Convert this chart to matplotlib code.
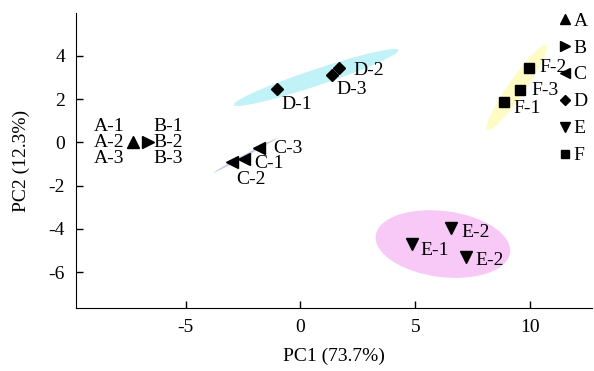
import matplotlib.pyplot as plt
import matplotlib
from matplotlib.patches import Ellipse
from matplotlib.lines import Line2D

matplotlib.rcParams['font.family'] = ['Liberation Serif', 'DejaVu Serif']
matplotlib.rcParams['axes.unicode_minus'] = False

# ── data ──
groups = ['A', 'B', 'C', 'D', 'E', 'F']
markers = ['^', '>', '<', 'D', 'v', 's']

a_x = [-7.3]
a_y = [0.0]
b_x = [-6.65]
b_y = [0.0]
c_x = [-3.0, -2.45, -1.8]
c_y = [-0.92, -0.76, -0.25]
c_names = ['C-2', 'C-1', 'C-3']
d_x = [-1.0, 1.38, 1.67]
d_y = [2.46, 3.11, 3.46]
d_names = ['D-1', 'D-3', 'D-2']
e_x = [4.87, 6.57, 7.2]
e_y = [-4.7, -3.97, -5.31]
e_names = ['E-1', 'E-2', 'E-2']
f_x = [8.84, 9.56, 9.96]
f_y = [1.85, 2.42, 3.45]
f_names = ['F-1', 'F-3', 'F-2']

# confidence ellipses: center x, center y, width, height, angle, colour
ellipses = [
    (0.68, 3.0, 7.6, 0.75, 19.5, '#c0f2f7'),
    (-2.4, -0.6, 3.2, 0.1, 30, '#c4caf0'),
    (9.41, 2.53, 4.7, 0.75, 57, '#fefbc4'),
    (6.2, -4.7, 5.9, 3.05, -8, '#f8c8f7'),
]

fig = plt.figure(figsize=(5.94, 3.71), dpi=100)
ax = fig.add_axes([0.128, 0.169, 0.869, 0.797])

for cx, cy, w, h, ang, col in ellipses:
    ax.add_patch(Ellipse((cx, cy), w, h, angle=ang, facecolor=col,
                         edgecolor='none', zorder=1))

ms = 8
ax.plot(a_x, a_y, '^', color='black', ms=ms, zorder=3)
ax.plot(b_x, b_y, '>', color='black', ms=ms, zorder=3)
ax.plot(c_x, c_y, '<', color='black', ms=ms, zorder=3)
ax.plot(d_x, d_y, 'D', color='black', ms=6.5, zorder=3)
ax.plot(e_x, e_y, 'v', color='black', ms=ms, zorder=3)
ax.plot(f_x, f_y, 's', color='black', ms=6.5, zorder=3)

fs = 14
# Labels for A and B (stacked replicates)
for i, lab in enumerate(['A-1', 'A-2', 'A-3']):
    ax.annotate(lab, (a_x[0], a_y[0]), textcoords='offset points',
                xytext=(-6, 11.5 * (1 - i)), ha='right', va='center', fontsize=fs)
for i, lab in enumerate(['B-1', 'B-2', 'B-3']):
    ax.annotate(lab, (b_x[0], b_y[0]), textcoords='offset points',
                xytext=(4, 11.5 * (1 - i)), ha='left', va='center', fontsize=fs)

# offsets (points) for replicate labels
c_off = [(3.5, -12.5), (7.5, -3.5), (10, -0.5)]
d_off = [(3, -11), (3, -10.5), (10.5, -2)]
e_off = [(5.5, -4.5), (7, -3), (6.5, -2.5)]
f_off = [(7, -4.5), (8, -0.5), (7, 0.5)]

for xs, ys, names, offs in [(c_x, c_y, c_names, c_off),
                            (d_x, d_y, d_names, d_off),
                            (e_x, e_y, e_names, e_off),
                            (f_x, f_y, f_names, f_off)]:
    for x, y, n, o in zip(xs, ys, names, offs):
        ax.annotate(n, (x, y), textcoords='offset points', xytext=o,
                    ha='left', va='center', fontsize=fs, zorder=4)

ax.set_xlim(-9.77, 12.7)
ax.set_ylim(-7.67, 6.0)
ax.set_xticks([-5, 0, 5, 10])
ax.set_yticks([-6, -4, -2, 0, 2, 4])
ax.tick_params(direction='in', length=5, width=1, labelsize=fs, pad=8)
ax.spines['top'].set_visible(False)
ax.spines['right'].set_visible(False)
ax.set_xlabel('PC1 (73.7%)', fontsize=fs, labelpad=8)
ax.set_ylabel('PC2 (12.3%)', fontsize=fs, labelpad=13)

handles = [Line2D([], [], marker=m, color='black', linestyle='none',
                  ms=7.5 if m not in ('D', 's') else 5.5) for m in markers]
fig.legend(handles, groups, loc='upper left', bbox_to_anchor=(559 / 594, 1 - 12 / 371),
           frameon=False, fontsize=fs, handlelength=0.6, handletextpad=0.15,
           labelspacing=0.48, borderpad=0, borderaxespad=0)

fig.savefig('out.png', dpi=100)
